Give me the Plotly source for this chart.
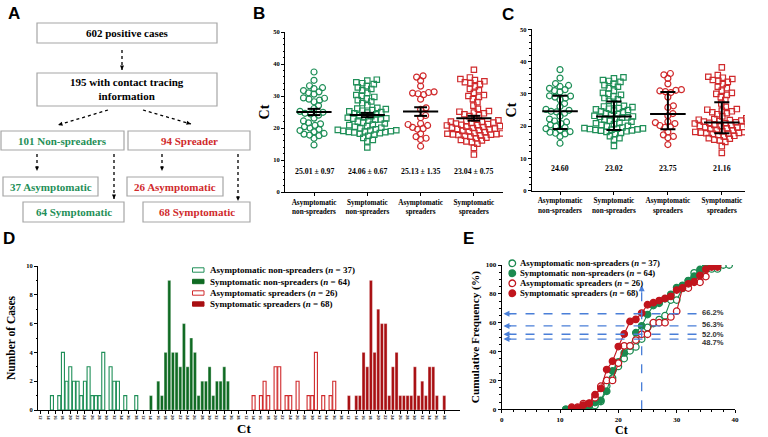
import math
import numpy as np
import plotly.graph_objects as go

W, H = 768, 437
def px(x): return x / W
def py(y): return 1 - y / H

# ---------------- data ----------------
group_ticks = ["Asymptomatic<br>non-spreaders", "Symptomatic<br>non-spreaders",
               "Asymptomatic<br>spreaders", "Symptomatic<br>spreaders"]
legend_names = ["Asymptomatic non-spreaders", "Symptomatic non-spreaders",
                "Asymptomatic spreaders", "Symptomatic spreaders"]
legend_n = [37, 64, 26, 68]

ct_asym_non = [14.7, 16.8, 17.6, 17.8, 18.1, 18.3, 18.8, 19.2, 19.6, 20.0, 20.4, 20.8, 21.3,
               21.6, 22.2, 23.1, 24.0, 24.4, 24.6, 24.9, 25.2, 26.1, 27.0, 28.2, 28.7, 29.0,
               29.3, 29.4, 30.6, 31.0, 31.3, 31.7, 32.3, 32.6, 33.2, 34.9, 37.5]
ct_sym_non = [13.9, 15.8, 16.3, 16.9, 17.6, 17.9, 18.2, 18.4, 18.6, 18.7, 18.8, 18.9, 19.0,
              19.1, 19.2, 19.3, 19.4, 19.6, 19.9, 20.1, 20.4, 20.6, 20.9, 21.1, 21.4, 21.7,
              22.0, 22.3, 22.6, 22.7, 22.9, 23.0, 23.2, 23.4, 23.7, 24.0, 24.3, 24.6, 24.8,
              25.0, 25.2, 25.4, 25.6, 25.9, 26.1, 26.3, 27.1, 27.8, 28.3, 28.7, 29.2, 29.7,
              30.0, 30.3, 31.0, 31.8, 32.2, 32.7, 33.1, 33.7, 34.0, 34.3, 34.8, 35.1]
ct_asym_spr = [14.3, 16.4, 16.8, 17.3, 18.2, 19.6, 19.8, 20.2, 20.8, 21.1, 21.4, 23.2, 23.9,
               25.8, 26.3, 29.0, 30.4, 30.7, 30.9, 31.1, 31.3, 33.1, 34.8, 35.9, 36.3]
ct_sym_spr = [11.7, 13.8, 15.1, 15.6, 15.8, 16.1, 16.3, 16.8, 17.0, 17.3, 17.6, 17.7, 17.8,
              17.9, 18.0, 18.1, 18.2, 18.3, 18.4, 18.7, 18.9, 19.1, 19.3, 19.6, 19.7, 19.8,
              20.0, 20.1, 20.3, 20.4, 20.6, 20.8, 20.9, 21.0, 21.2, 21.4, 21.6, 21.7, 21.9,
              22.0, 22.2, 22.4, 23.0, 23.7, 24.0, 24.3, 24.6, 24.8, 25.1, 25.3, 26.0, 27.0,
              28.1, 29.0, 29.7, 30.0, 30.3, 31.0, 31.8, 32.2, 33.0, 33.7, 34.0, 34.3, 34.6,
              35.0, 35.3, 35.8, 38.2]

b_mean = [25.01, 24.06, 25.13, 23.04]
b_sem = [0.97, 0.67, 1.35, 0.75]
c_median = [24.60, 23.02, 23.75, 21.16]
c_q1 = [19.1, 18.8, 19.0, 17.8]
c_q3 = [29.4, 27.6, 30.6, 27.4]

d_tick_ct = [12, 14, 16, 18, 20, 22, 24, 26, 28, 30, 32, 34, 36, 38]
d_ct_first = 12
d_section = 28

e_start_ct = [11, 11, 12, 12]
e_end_ct = [39, 37, 37, 37]
e_cut_ct = 24
e_levels = [66.2, 57.8, 52.0, 48.7]
e_level_labels = ["66.2%", "56.3%", "52.0%", "48.7%"]

series = [ct_asym_non, ct_sym_non, ct_asym_spr, ct_sym_spr]

# ---------------- styling ----------------
SERIF = "Liberation Serif"
SANS = "Liberation Sans"
GREEN = "#1f8f58"
RED = "#d02a2c"
GREEN_F = "#0f6a22"
RED_F = "#a80f12"
E_GREEN = "#1b8a50"
E_RED = "#c1151d"
BLUE = "#4a7fd8"

fig = go.Figure()
shapes = []
annotations = []

def label(x, y, text, size, color="black", family=SERIF, weight="bold",
          xanchor="center", yanchor="middle", **kw):
    annotations.append(dict(x=px(x), y=py(y), xref="paper", yref="paper", text=text,
                            showarrow=False, xanchor=xanchor, yanchor=yanchor,
                            font=dict(family=family, size=size, color=color, weight=weight),
                            **kw))

def arrow(x0, y0, x1, y1, color="black", width=1.3, dash="dot", head=4.5):
    shapes.append(dict(type="line", xref="paper", yref="paper", x0=px(x0), y0=py(y0),
                       x1=px(x1), y1=py(y1), line=dict(color=color, width=width, dash=dash)))
    ang = math.atan2(y1 - y0, x1 - x0)
    bx, by = x1 - head * math.cos(ang), y1 - head * math.sin(ang)
    nx, ny = -math.sin(ang), math.cos(ang)
    p1 = (bx + head * 0.45 * nx, by + head * 0.45 * ny)
    p2 = (bx - head * 0.45 * nx, by - head * 0.45 * ny)
    path = (f"M{px(x1)},{py(y1)} L{px(p1[0])},{py(p1[1])} "
            f"L{px(p2[0])},{py(p2[1])} Z")
    shapes.append(dict(type="path", xref="paper", yref="paper", path=path,
                       fillcolor=color, line=dict(width=0)))

# ---------------- Panel A (flow chart) ----------------
def box(x0, y0, x1, y1):
    shapes.append(dict(type="rect", xref="paper", yref="paper", x0=px(x0), y0=py(y0),
                       x1=px(x1), y1=py(y1), line=dict(color="#a6a6a6", width=1.2),
                       fillcolor="rgba(0,0,0,0)"))

box(37, 23, 217, 43); label(127, 33, "602 positive cases", 11)
arrow(122, 50, 122, 70)
box(37, 73, 217, 106); label(127, 89.5, "195 with contact tracing<br>information", 11)
arrow(108, 110, 58, 125)
arrow(143, 110, 191, 124)
box(1, 131, 124, 150); label(62, 140.5, "101 Non-spreaders", 11, GREEN)
box(128, 131, 250, 150); label(189, 140.5, "94 Spreader", 11, RED)
arrow(37, 154, 37, 171)
arrow(114, 154, 114, 199)
arrow(162, 154, 162, 171)
arrow(238, 154, 238, 201)
box(3, 177, 98, 196); label(50.5, 186.5, "37 Asymptomatic", 11, GREEN)
box(23, 202, 124, 222); label(73.5, 212, "64 Symptomatic", 11, GREEN)
box(127, 177, 223, 196); label(175, 186.5, "26 Asymptomatic", 11, RED)
box(143, 202, 250, 222); label(196.5, 212, "68 Symptomatic", 11, RED)

# panel letters
for lt, (lx, ly) in zip("ABCDE", [(14, 13), (259, 13), (508, 14), (9, 238), (468, 238)]):
    label(lx, ly, lt, 17, family=SANS)

# ---------------- beeswarm helper ----------------
def beeswarm(vals, yscale, diam, step=0.5):
    vals = np.asarray(vals, dtype=float)
    order = np.argsort(vals)
    placed = []
    offs = np.zeros(len(vals))
    for n_i, idx in enumerate(order):
        y = vals[idx] * yscale
        k = 0
        while True:
            if k == 0:
                cands = [0.0]
            else:
                cands = [k * step, -k * step] if n_i % 2 == 0 else [-k * step, k * step]
            found = None
            for c in cands:
                if all((c - a) ** 2 + (y - b) ** 2 >= diam ** 2 for a, b in placed):
                    found = c
                    break
            if found is not None:
                break
            k += 1
        placed.append((found, y))
        offs[idx] = found
    return offs

symbols = ["circle-open", "square-open", "circle-open", "square-open"]
bc_colors = [GREEN, GREEN, RED, RED]

# ---------------- Panel B & C ----------------
for ax_x, ax_y, yscale, xscale in [("x", "y", 3.2, 53.3), ("x2", "y2", 3.228, 53.9)]:
    for i, vals in enumerate(series):
        offs = beeswarm(vals, yscale, 5.3)
        fig.add_trace(go.Scatter(
            x=i + offs / xscale, y=vals, mode="markers", xaxis=ax_x, yaxis=ax_y,
            showlegend=False, hoverinfo="skip",
            marker=dict(symbol=symbols[i], size=5.4 if "square" in symbols[i] else 6.0,
                        color=bc_colors[i], line=dict(width=1.2, color=bc_colors[i]))))

# B: mean +/- SEM
bx, by = [], []
for i, (m, s) in enumerate(zip(b_mean, b_sem)):
    bx += [i - 0.33, i + 0.33, None, i, i, None, i - 0.12, i + 0.12, None, i - 0.12, i + 0.12, None]
    by += [m, m, None, m - s, m + s, None, m - s, m - s, None, m + s, m + s, None]
fig.add_trace(go.Scatter(x=bx, y=by, mode="lines", line=dict(color="black", width=2),
                         xaxis="x", yaxis="y", showlegend=False, hoverinfo="skip"))
for i, (m, s) in enumerate(zip(b_mean, b_sem)):
    annotations.append(dict(x=i, y=6.3, xref="x", yref="y", showarrow=False,
                            text=f"{m:.2f} ± {s:.2f}",
                            font=dict(family=SERIF, size=7.8, color="black", weight="bold")))

# C: median with IQR
cx, cy = [], []
for i, (md, q1, q3) in enumerate(zip(c_median, c_q1, c_q3)):
    cx += [i - 0.33, i + 0.33, None, i, i, None, i - 0.14, i + 0.14, None, i - 0.14, i + 0.14, None]
    cy += [md, md, None, q1, q3, None, q1, q1, None, q3, q3, None]
fig.add_trace(go.Scatter(x=cx, y=cy, mode="lines", line=dict(color="black", width=2),
                         xaxis="x2", yaxis="y2", showlegend=False, hoverinfo="skip"))
for i, md in enumerate(c_median):
    annotations.append(dict(x=i, y=6.9, xref="x2", yref="y2", showarrow=False,
                            text=f"{md:.2f}",
                            font=dict(family=SERIF, size=7.8, color="black", weight="bold")))

# ---------------- Panel D (histogram) ----------------
d_styles = [
    dict(color="white", line=dict(color=GREEN, width=1.1)),
    dict(color=GREEN_F, line=dict(color="rgba(255,255,255,0.55)", width=0.6)),
    dict(color="white", line=dict(color=RED, width=1.1)),
    dict(color=RED_F, line=dict(color="rgba(255,255,255,0.55)", width=0.6)),
]
for sec, vals in enumerate(series):
    rounded = np.floor(np.asarray(vals) + 0.5).astype(int)
    bins, counts = np.unique(rounded, return_counts=True)
    fig.add_trace(go.Bar(x=sec * d_section + (bins - d_ct_first), y=counts, width=0.82,
                         marker=d_styles[sec], xaxis="x3", yaxis="y3", showlegend=False,
                         hoverinfo="skip"))

d_tickvals, d_ticktext = [], []
for sec in range(4):
    for c in d_tick_ct:
        d_tickvals.append(sec * d_section + c - d_ct_first)
        d_ticktext.append(str(c))

# D legend
d_leg_y = [270, 281.5, 293, 304]
for k in range(4):
    st = d_styles[k]
    shapes.append(dict(type="rect", xref="paper", yref="paper", x0=px(192.5), x1=px(204),
                       y0=py(d_leg_y[k] + 2.2), y1=py(d_leg_y[k] - 2.2),
                       fillcolor=st["color"],
                       line=dict(color=[GREEN, GREEN_F, RED, RED_F][k], width=1)))
    label(208, d_leg_y[k], f"{legend_names[k]} (<i>n</i> = {legend_n[k]})", 9,
          xanchor="left")

# ---------------- Panel E (cumulative) ----------------
e_styles = [(E_GREEN, "white"), (E_GREEN, E_GREEN), (E_RED, "white"), (E_RED, E_RED)]
for g, vals in enumerate(series):
    rounded = np.floor(np.asarray(vals) + 0.5).astype(int)
    xs = np.arange(e_start_ct[g], e_end_ct[g] + 1)
    ys = [(rounded <= x).sum() / len(vals) * 100 for x in xs]
    lc, fc = e_styles[g]
    fig.add_trace(go.Scatter(x=xs, y=ys, mode="lines+markers", xaxis="x4", yaxis="y4",
                             showlegend=False, hoverinfo="skip",
                             line=dict(color=lc, width=1.1),
                             marker=dict(symbol="circle", size=6.5, color=fc,
                                         line=dict(color=lc, width=1.3))))

# dashed guide lines
shapes.append(dict(type="line", xref="x4", yref="y4", x0=e_cut_ct, x1=e_cut_ct, y0=0, y1=84,
                   line=dict(color=BLUE, width=1.3, dash="dash")))
annotations.append(dict(x=e_cut_ct, y=86, xref="x4", yref="y4", ax=0, ay=8, text="",
                        showarrow=True, arrowhead=2, arrowsize=1, arrowwidth=1.2,
                        arrowcolor=BLUE))
label_shift = [1, 1, 0, -3]
for lev, txt, sh in zip(e_levels, e_level_labels, label_shift):
    shapes.append(dict(type="line", xref="x4", yref="y4", x0=1, x1=33.5, y0=lev, y1=lev,
                       line=dict(color=BLUE, width=1.3, dash="dash")))
    annotations.append(dict(x=0.3, y=lev, xref="x4", yref="y4", ax=9, ay=0, text="",
                            showarrow=True, arrowhead=2, arrowsize=1, arrowwidth=1.2,
                            arrowcolor=BLUE))
    annotations.append(dict(x=34, y=lev, xref="x4", yref="y4", text=txt, showarrow=False,
                            xanchor="left", yanchor="middle", yshift=sh,
                            font=dict(family=SANS, size=7.6, color="#333333", weight="bold")))

# E legend
e_leg_y = [263.3, 273.3, 283.3, 293.3]
for k in range(4):
    lc, fc = e_styles[k]
    r = 3.3
    shapes.append(dict(type="circle", xref="paper", yref="paper",
                       x0=px(512.3 - r), x1=px(512.3 + r), y0=py(e_leg_y[k] + r),
                       y1=py(e_leg_y[k] - r), fillcolor=fc, line=dict(color=lc, width=1.3)))
    label(518, e_leg_y[k], f"{legend_names[k]} (<i>n</i> = {legend_n[k]})", 8.7,
          xanchor="left")

# x-axis titles of D and E
label(244, 428, "Ct", 13)
label(621, 430, "Ct", 12, borderpad=0)

# ---------------- axes ----------------
tickf = dict(family=SERIF, size=6.5, color="black", weight="bold")
titlef = dict(family=SERIF, size=14, color="black", weight="bold")
common = dict(showgrid=False, zeroline=False, showline=True, linecolor="black", linewidth=1,
              ticks="outside", tickcolor="black", ticklen=3, tickwidth=1, automargin=False)

fig.update_layout(
    width=W, height=H, margin=dict(l=0, r=0, t=0, b=0), autosize=False,
    paper_bgcolor="white", plot_bgcolor="white", barmode="overlay",
    shapes=shapes, annotations=annotations,
    xaxis=dict(domain=[px(285), px(503)], range=[-0.544, 3.546], anchor="y",
               tickvals=[0, 1, 2, 3], ticktext=group_ticks,
               tickfont=dict(family=SERIF, size=7.2, color="black", weight="bold"), **common),
    yaxis=dict(domain=[py(192), py(32)], range=[0, 50], anchor="x", dtick=10,
               tickfont=tickf, title=dict(text="Ct", font=titlef, standoff=0),
               minor=dict(dtick=2, ticklen=1.5, ticks="outside", tickcolor="black"), **common),
    xaxis2=dict(domain=[px(531.7), px(745)], range=[-0.525, 3.43], anchor="y2",
                tickvals=[0, 1, 2, 3], ticktext=group_ticks,
                tickfont=dict(family=SERIF, size=7.2, color="black", weight="bold"), **common),
    yaxis2=dict(domain=[py(190.7), py(29.3)], range=[0, 50], anchor="x2", dtick=10,
                tickfont=tickf, title=dict(text="Ct", font=titlef, standoff=0),
                minor=dict(dtick=2, ticklen=1.5, ticks="outside", tickcolor="black"), **common),
    xaxis3=dict(domain=[px(38), px(460)], range=[-0.8, 114.3], anchor="y3",
                tickvals=d_tickvals, ticktext=d_ticktext, tickangle=90,
                tickfont=dict(family=SERIF, size=4.6, color="black", weight="bold"), **common),
    yaxis3=dict(domain=[py(410), py(266)], range=[0, 10], anchor="x3", dtick=2,
                tickfont=tickf,
                title=dict(text="Number of Cases", font=dict(family=SERIF, size=11.5,
                                                              color="black", weight="bold"),
                           standoff=8),
                minor=dict(dtick=1, ticklen=1.5, ticks="outside", tickcolor="black"), **common),
    xaxis4=dict(domain=[px(501.7), px(735)], range=[0, 40], anchor="y4", dtick=10,
                tickfont=dict(family=SERIF, size=7, color="black", weight="bold"),
                minor=dict(dtick=2, ticklen=1.5, ticks="outside", tickcolor="black"), **common),
    yaxis4=dict(domain=[py(409.3), py(265)], range=[0, 100], anchor="x4", dtick=20,
                tickfont=dict(family=SERIF, size=7, color="black", weight="bold"),
                title=dict(text="Cumulative Frequency (%)",
                           font=dict(family=SERIF, size=11.3, color="black", weight="bold"),
                           standoff=3),
                minor=dict(dtick=5, ticklen=1.5, ticks="outside", tickcolor="black"), **common),
)

fig.write_html("out.html", config={"displayModeBar": False},
               post_script="document.body.style.margin='0px';"
                           "document.body.style.padding='0px';"
                           "document.documentElement.style.overflow='hidden';")
